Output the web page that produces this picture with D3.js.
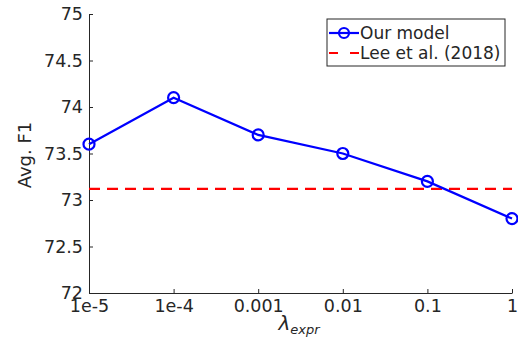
<!DOCTYPE html>
<html>
<head>
<meta charset="utf-8">
<script src="https://cdn.jsdelivr.net/npm/d3@7"></script>
<style>
  body { margin: 0; background: #fff; }
  text { font-family: "DejaVu Sans", sans-serif; fill: #262626; }
</style>
</head>
<body>
<svg id="chart" width="518" height="347"></svg>
<script>
// data
const lambdas = ["1e-5", "1e-4", "0.001", "0.01", "0.1", "1"];
const ourModel = [73.6, 74.1, 73.7, 73.5, 73.2, 72.8];
const baseline = 73.12;
const yTicks = [72, 72.5, 73, 73.5, 74, 74.5, 75];

const svg = d3.select("#chart");
const margin = {left: 89, right: 6, top: 14, bottom: 54};
const W = 518, H = 347;

const x = d3.scalePoint().domain(lambdas).range([margin.left, W - margin.right]);
const y = d3.scaleLinear().domain([72, 75]).range([H - margin.bottom, margin.top]);

// axes
const xAxis = svg.append("g")
    .attr("transform", `translate(0,${H - margin.bottom})`)
    .call(d3.axisBottom(x).tickSizeInner(-4).tickSizeOuter(0));
const yAxis = svg.append("g")
    .attr("transform", `translate(${margin.left},0)`)
    .call(d3.axisLeft(y).tickValues(yTicks).tickFormat(d3.format("")).tickSizeInner(-4).tickSizeOuter(0));

[xAxis, yAxis].forEach(a => {
    a.select(".domain").attr("stroke", "#262626");
    a.selectAll(".tick line").attr("stroke", "#262626");
    a.selectAll(".tick text")
        .attr("font-family", "DejaVu Sans, sans-serif")
        .attr("font-size", 17.5)
        .attr("fill", "#262626");
});
xAxis.selectAll(".tick text").attr("y", 5).attr("dy", "0.78em");
yAxis.selectAll(".tick text").attr("x", -6).attr("dy", "0.32em");

// baseline
svg.append("line")
    .attr("x1", x(lambdas[0])).attr("x2", x(lambdas[lambdas.length - 1]))
    .attr("y1", y(baseline)).attr("y2", y(baseline))
    .attr("stroke", "#ff0000").attr("stroke-width", 2.2)
    .attr("stroke-dasharray", "11,7");

// our model line
const line = d3.line().x((d, i) => x(lambdas[i])).y(d => y(d));
svg.append("path")
    .datum(ourModel)
    .attr("d", line)
    .attr("fill", "none")
    .attr("stroke", "#0000ff")
    .attr("stroke-width", 2.2);

svg.selectAll(".pt")
    .data(ourModel)
    .enter().append("circle")
    .attr("class", "pt")
    .attr("cx", (d, i) => x(lambdas[i]))
    .attr("cy", d => y(d))
    .attr("r", 5.5)
    .attr("fill", "none")
    .attr("stroke", "#0000ff")
    .attr("stroke-width", 2.2);

// axis labels
svg.append("text")
    .attr("transform", "translate(25,155) rotate(-90)")
    .attr("text-anchor", "middle")
    .attr("dy", "0.36em")
    .attr("font-size", 18)
    .text("Avg. F1");

const xl = svg.append("text")
    .attr("x", 299)
    .attr("y", 330)
    .attr("text-anchor", "middle")
    .attr("font-family", "DejaVu Serif, serif")
    .attr("font-style", "italic")
    .style("fill", "#262626");
xl.append("tspan").attr("font-size", 20).text("λ");
xl.append("tspan").attr("font-size", 13).attr("dy", 4).text("expr");

// legend
const lg = svg.append("g").attr("transform", "translate(327,19)");
lg.append("rect").attr("width", 178).attr("height", 47)
    .attr("fill", "#fff").attr("stroke", "#262626").attr("stroke-width", 1);
lg.append("line").attr("x1", 2).attr("x2", 32).attr("y1", 14).attr("y2", 14)
    .attr("stroke", "#0000ff").attr("stroke-width", 2.2);
lg.append("circle").attr("cx", 17).attr("cy", 14).attr("r", 5)
    .attr("fill", "none").attr("stroke", "#0000ff").attr("stroke-width", 2.2);
lg.append("line").attr("x1", 2).attr("x2", 32).attr("y1", 34).attr("y2", 34)
    .attr("stroke", "#ff0000").attr("stroke-width", 2.2).attr("stroke-dasharray", "9,12");
lg.append("text").attr("x", 33).attr("y", 14).attr("dy", "0.36em").attr("font-size", 17).text("Our model");
lg.append("text").attr("x", 33).attr("y", 34).attr("dy", "0.36em").attr("font-size", 17).text("Lee et al. (2018)");
</script>
</body>
</html>
